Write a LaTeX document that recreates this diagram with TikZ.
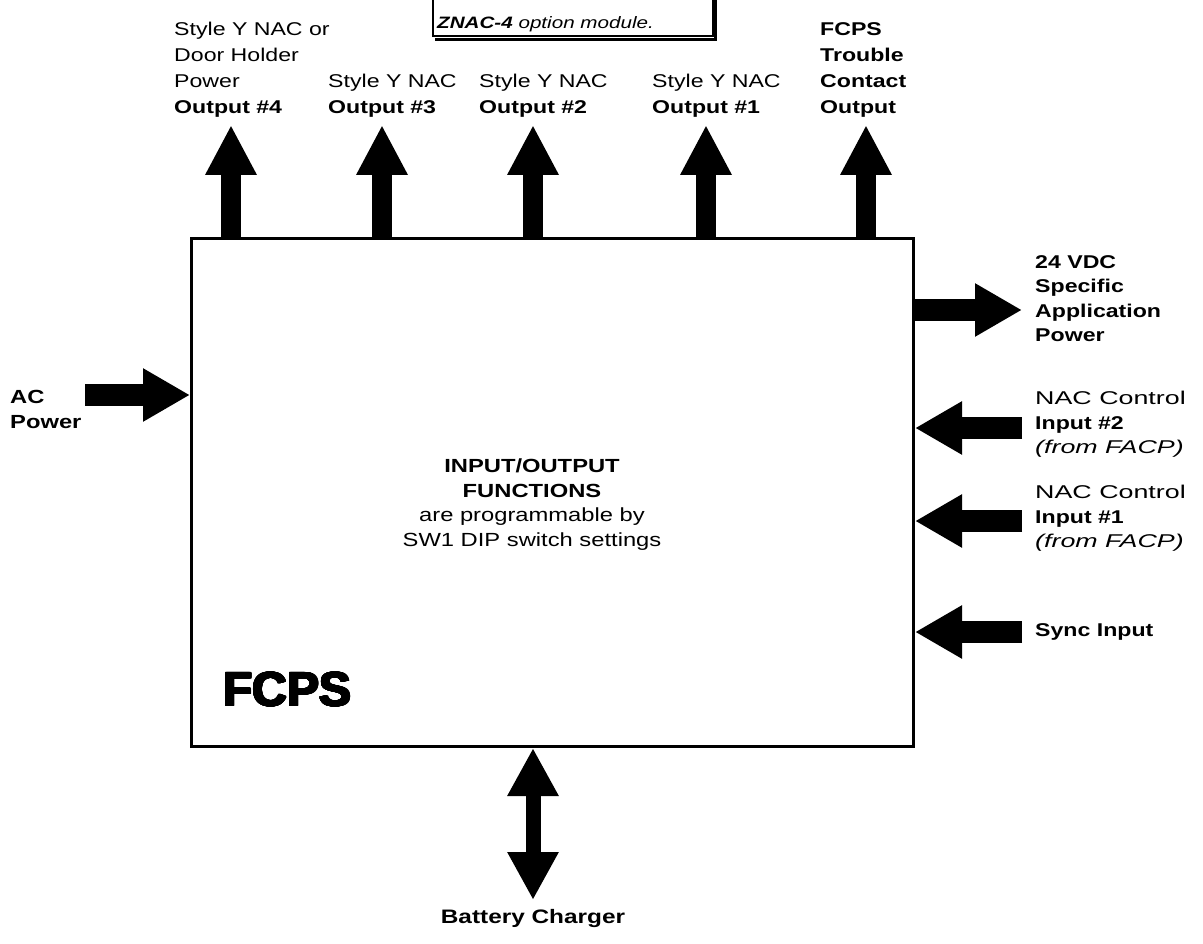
\documentclass[tikz,border=0pt]{standalone}
\usepackage{fontspec}
\usepackage{contour}
\setmainfont{Liberation Sans}[FakeStretch=1.25]
\newfontfamily\widefont{Liberation Sans}[FakeStretch=1.45]
\newfontfamily\plainfont{Liberation Sans}
\usetikzlibrary{arrows.meta}
\contourlength{0.9pt}
\contournumber{24}
\tikzset{
  lbl/.style={inner sep=0pt, align=left, anchor=north west, font=\fontsize{18.5}{26}\selectfont},
  lblr/.style={lbl, font=\fontsize{18.5}{24.5}\selectfont},
  ctr/.style={inner sep=0pt, align=center, anchor=north, font=\fontsize{19}{24.5}\selectfont},
  bigarr/.style={line width=20pt, -{Triangle[length=50pt,width=48pt]}},
  inarr/.style={line width=22pt, -{Triangle[length=47pt,width=50pt]}},
  batarr/.style={line width=15pt, {Triangle[length=48pt,width=48pt]}-{Triangle[length=48pt,width=48pt]}},
}
\begin{document}
\begin{tikzpicture}[x=1pt,y=-1pt]
\useasboundingbox (0,0) rectangle (1203,944);
\fill[white] (0,0) rectangle (1203,944);

% main block
\node[draw, line width=3pt, inner sep=0pt, anchor=north west,
      minimum width=722pt, minimum height=508pt] (box) at (190,237) {};

% ZNAC note box (cropped at the top)
\node[draw, line width=2pt, inner sep=0pt, anchor=south west,
      minimum width=280pt, minimum height=70pt] (znac) at (432,37) {};
\draw[line width=3pt] (715,-10) -- (715,40) -- (435,40);
\node[inner sep=0pt, anchor=west, font=\fontsize{16.5}{18}\selectfont\itshape] (znactxt) at (437,24)
  {{\bfseries ZNAC-4} option module.};

% top labels
\node[lbl] (l4) at (174,22) {Style Y NAC or\\Door Holder\\Power\\\textbf{Output \#4}};
\node[lbl] (l3) at (328,74) {Style Y NAC\\\textbf{Output \#3}};
\node[lbl] (l2) at (479,74) {Style Y NAC\\\textbf{Output \#2}};
\node[lbl] (l1) at (652,74) {Style Y NAC\\\textbf{Output \#1}};
\node[lbl, font=\fontsize{18.5}{26}\selectfont\bfseries] (lt) at (820,22) {FCPS\\Trouble\\Contact\\Output};

% top arrows
\coordinate (t4) at (231,125);
\coordinate (t3) at (382,125);
\coordinate (t2) at (533,125);
\coordinate (t1) at (706,125);
\coordinate (tt) at (866,125);
\foreach \c in {t4,t3,t2,t1,tt}
  \draw[bigarr] (\c |- box.north) -- (\c);

% right side labels
\node[lblr, font=\fontsize{18.5}{24.5}\selectfont\bfseries] (lvdc) at (1035,255) {24 VDC\\Specific\\Application\\Power};
\node[lblr] (ln2) at (1035,391) {{\widefont NAC Control}\\\textbf{Input \#2}\\{\widefont\itshape (from FACP)}};
\node[lblr] (ln1) at (1035,485) {{\widefont NAC Control}\\\textbf{Input \#1}\\{\widefont\itshape (from FACP)}};
\node[lblr, font=\fontsize{18.5}{24.5}\selectfont\bfseries, anchor=west] (lsync) at (1035,632) {Sync Input};

% right arrows
\coordinate (vdc) at (1022,310);
\coordinate (n2) at (1022,428);
\coordinate (n1) at (1022,521);
\coordinate (sy) at (1022,632);
\draw[inarr] (vdc -| box.east) -- (vdc);
\draw[inarr] (n2) -- (n2 -| box.east);
\draw[inarr] (n1) -- (n1 -| box.east);
\draw[inarr] (sy) -- (sy -| box.east);

% AC power
\node[lbl, font=\fontsize{19}{25}\selectfont\bfseries] (lac) at (10,390) {AC\\Power};
\coordinate (ac) at (85,395);
\draw[inarr] (ac) -- (ac -| box.west);

% centre text
\node[ctr] (func) at (532,459) {\textbf{INPUT/OUTPUT}\\\textbf{FUNCTIONS}\\are programmable by\\SW1 DIP switch settings};

% FCPS
\node[inner sep=0pt, anchor=west, font=\plainfont\fontsize{48}{50}\selectfont\bfseries] (fcps) at (223,690) {\contour{black}{FCPS}};

% battery charger
\coordinate (bat) at (533,900);
\draw[batarr] (bat |- box.south) -- (bat);
\node[inner sep=0pt, anchor=center, font=\fontsize{19.5}{20}\selectfont\bfseries] (lbat) at (533,918) {Battery Charger};
\end{tikzpicture}
\end{document}
